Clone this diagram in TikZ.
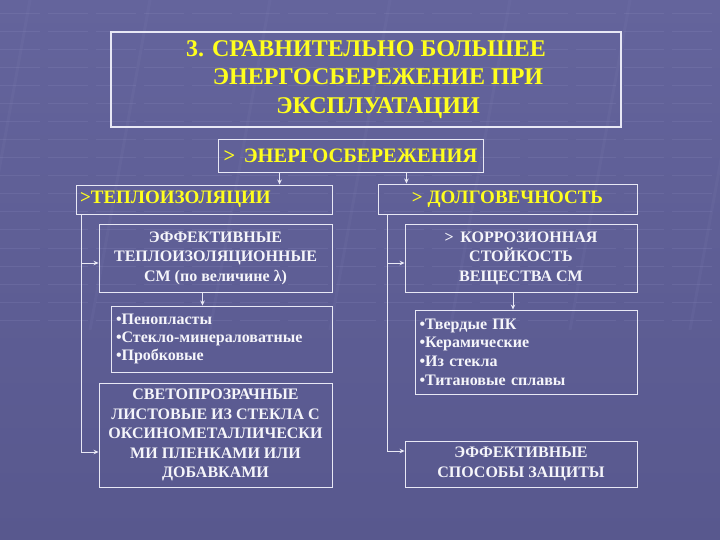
\documentclass[tikz,border=0pt]{standalone}
\usepackage{fontspec}
\setmainfont{Liberation Serif}
\usetikzlibrary{calc,arrows.meta}
\definecolor{bgtop}{RGB}{100,100,156}
\definecolor{bgbot}{RGB}{88,88,142}
\definecolor{bgline}{RGB}{150,150,200}
\definecolor{boxline}{RGB}{232,232,245}
\definecolor{ylw}{RGB}{255,255,30}
\definecolor{txtw}{RGB}{245,245,250}
\tikzset{
  box/.style={draw=boxline, line width=0.9pt, inner sep=0pt, align=center, text=txtw,
    font=\bfseries\fontsize{16}{19.5}\selectfont},
  hbox/.style={box, text=ylw, font=\bfseries\fontsize{19}{22}\selectfont},
  arr/.style={draw=boxline, line width=0.8pt, -{Stealth[length=5pt,width=4.5pt]}},
}

\begin{document}
\begin{tikzpicture}[x=1pt,y=-1pt]
	%%%%% BACKGROUND %%%%%
	\useasboundingbox (0,0) rectangle (720,540);
	\shade[top color=bgtop, bottom color=bgbot] (0,0) rectangle (720,540);
	\foreach \y in {14,32,...,320}{
		\draw[bgline, line width=1pt, opacity=0.18, dash pattern=on 40pt off 8pt] (0,\y) -- (720,\y);
	}
	\foreach \x in {30,150,...,750}{
		\draw[bgline, line width=3pt, opacity=0.08] (\x,0) -- (\x-60,330);
	}
	
	%%%%% BOXES %%%%%
	\node[box, line width=1.8pt, text=ylw, minimum width=510pt, minimum height=95pt,
	  font=\bfseries\fontsize{24}{28.5}\selectfont] (title) at (366,79.5)
	  {3. СРАВНИТЕЛЬНО БОЛЬШЕЕ\\ \hspace*{24pt}ЭНЕРГОСБЕРЕЖЕНИЕ ПРИ\\ \hspace*{24pt}ЭКСПЛУАТАЦИИ};
	\node[hbox, font=\bfseries\fontsize{20.5}{22}\selectfont, minimum width=265pt, minimum height=33pt]
	  (energy) at (350.5,155.5) {> \,ЭНЕРГОСБЕРЕЖЕНИЯ};
	
	\node[hbox, minimum height=29pt, text width=248pt, inner xsep=4pt, align=left]
	  (teplo) at (204,199.5) {>ТЕПЛОИЗОЛЯЦИИ};
	\node[hbox, minimum width=259pt, minimum height=30pt] (dolgo) at (507.5,199) {> ДОЛГОВЕЧНОСТЬ};
	
	% left column
	\node[box, minimum width=233pt, minimum height=68pt] (effteplo) at (215.5,258)
	  {ЭФФЕКТИВНЫЕ\\ ТЕПЛОИЗОЛЯЦИОННЫЕ\\ СМ (по величине λ)};
	\node[box, minimum height=66pt, text width=211pt, inner xsep=5pt, align=left,
	  font=\bfseries\fontsize{16}{18}\selectfont] (penop) at (221.5,339)
	  {•Пенопласты\\ •Стекло-минераловатные\\ •Пробковые};
	\node[box, minimum width=233pt, minimum height=104pt] (sveto) at (215.5,435)
	  {СВЕТОПРОЗРАЧНЫЕ\\ ЛИСТОВЫЕ ИЗ СТЕКЛА С\\ ОКСИНОМЕТАЛЛИЧЕСКИ\\ МИ ПЛЕНКАМИ ИЛИ\\ ДОБАВКАМИ};
	
	% right column
	\node[box, minimum width=232pt, minimum height=68pt] (korr) at (521,258)
	  {> \,КОРРОЗИОННАЯ\\ СТОЙКОСТЬ\\ ВЕЩЕСТВА СМ};
	\node[box, minimum height=84pt, text width=214pt, inner xsep=4pt, align=left,
	  font=\bfseries\fontsize{16}{18.7}\selectfont] (tverd) at (526.5,352)
	  {•Твердые ПК\\ •Керамические\\ •Из стекла\\ •Титановые сплавы};
	\node[box, minimum width=232pt, minimum height=46pt] (sposob) at (521,464)
	  {ЭФФЕКТИВНЫЕ\\ СПОСОБЫ ЗАЩИТЫ};
	
	%%%%% ARROWS %%%%%
	\coordinate (e1) at ([xshift=62pt]energy.south west);
	\coordinate (e2) at ([xshift=-77pt]energy.south east);
	\draw[arr] (e1) -- (e1 |- teplo.north);
	\draw[arr] (e2) -- (e2 |- dolgo.north);
	
	\coordinate (lt) at ([xshift=6pt]teplo.south west);
	\draw[arr] (lt) |- ([yshift=-5pt]effteplo.west);
	\draw[arr] (lt) |- ([yshift=-17pt]sveto.west);
	\coordinate (rt) at ([xshift=10pt]dolgo.south west);
	\draw[arr] (rt) |- ([yshift=-5pt]korr.west);
	\draw[arr] (rt) |- ([yshift=13pt]sposob.west);
	
	\coordinate (d1) at ([xshift=-13pt]effteplo.south);
	\coordinate (d2) at ([xshift=-8pt]korr.south);
	\draw[arr] (d1) -- (d1 |- penop.north);
	\draw[arr] (d2) -- (d2 |- tverd.north);
\end{tikzpicture}
\end{document}
